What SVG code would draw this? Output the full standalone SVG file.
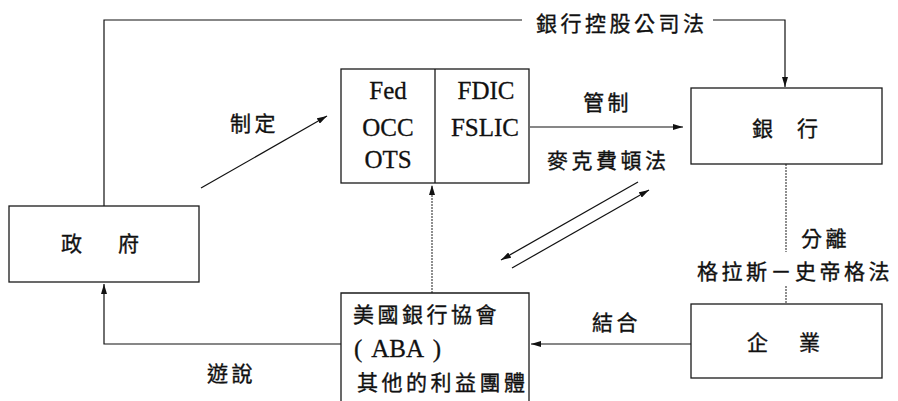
<svg xmlns="http://www.w3.org/2000/svg" width="898" height="401" viewBox="0 0 898 401">
<style>
.box{fill:none;stroke:#1a1a1a;stroke-width:1.3}
.ln{fill:none;stroke:#111;stroke-width:1.2}
.dot{fill:none;stroke:#333;stroke-width:1.1;stroke-dasharray:2 1}
.cj{font-family:"Noto Sans CJK TC","Noto Sans CJK SC",sans-serif;font-size:21px;fill:#111;stroke:#111;stroke-width:0.35;letter-spacing:3.5px;dominant-baseline:central}
.lat{font-family:"Liberation Serif",serif;font-size:25px;fill:#111;stroke:#111;stroke-width:0.3;text-anchor:middle}
</style>
<defs>
<marker id="ah" viewBox="0 0 10 6" refX="10" refY="3" markerWidth="10" markerHeight="6" markerUnits="userSpaceOnUse" orient="auto">
<path d="M0,0 L10,3 L0,6 Z" fill="#111"/>
</marker>
</defs>
<rect width="898" height="401" fill="#fff"/>

<g id="connectors">
<path class="ln" d="M104,206 V20 H522 M713,20 H785 V87" marker-end="url(#ah)"/>
<line class="ln" x1="201" y1="188" x2="327" y2="116" marker-end="url(#ah)"/>
<line class="ln" x1="530" y1="127" x2="683" y2="127" marker-end="url(#ah)"/>
<line class="ln" x1="638" y1="182" x2="501" y2="260" marker-end="url(#ah)"/>
<line class="ln" x1="512" y1="268" x2="649" y2="190" marker-end="url(#ah)"/>
<line class="dot" x1="432" y1="293" x2="432" y2="185" marker-end="url(#ah)"/>
<path class="dot" d="M786,164 V252 M786,286 V304"/>
<line class="ln" x1="691" y1="344" x2="531" y2="344" marker-end="url(#ah)"/>
<path class="ln" d="M341,344 H104 V284" marker-end="url(#ah)"/>
<text class="cj" x="536" y="22">銀行控股公司法</text>
<text class="cj" x="230" y="122">制定</text>
<text class="cj" x="583" y="101">管制</text>
<text class="cj" x="547" y="159">麥克費頓法</text>
<text class="cj" x="801" y="237">分離</text>
<text class="cj" x="697" y="270">格拉斯－史帝格法</text>
<text class="cj" x="592" y="321">結合</text>
<text class="cj" x="207" y="372">遊說</text>
</g>

<g id="gov">
<rect class="box" x="9" y="206" width="190" height="76"/>
<text class="cj" x="61" y="242" style="letter-spacing:7.5px">政　府</text>
</g>

<g id="regulators">
<rect class="box" x="341" y="69" width="188" height="114"/>
<line class="box" x1="435" y1="69" x2="435" y2="183"/>
<text class="lat" x="388" y="99">Fed</text>
<text class="lat" x="388" y="136">OCC</text>
<text class="lat" x="388" y="168">OTS</text>
<text class="lat" x="486" y="99">FDIC</text>
<text class="lat" x="485" y="136">FSLIC</text>
</g>

<g id="bank">
<rect class="box" x="691" y="88" width="191" height="76"/>
<text class="cj" x="752" y="127" style="letter-spacing:1.5px">銀　行</text>
</g>

<g id="firm">
<rect class="box" x="691" y="304" width="191" height="74"/>
<text class="cj" x="747" y="341" style="letter-spacing:5px">企　業</text>
</g>

<g id="aba">
<path class="box" d="M341,402 V293 H529 V402"/>
<text class="cj" x="353" y="313">美國銀行協會</text>
<text x="354" y="357" style="font-family:'Liberation Serif',serif;font-size:25px;fill:#111;stroke:#111;stroke-width:0.3">(<tspan dx="4"> ABA</tspan><tspan dx="4"> )</tspan></text>
<text class="cj" x="357" y="381">其他的利益團體</text>
</g>
</svg>
